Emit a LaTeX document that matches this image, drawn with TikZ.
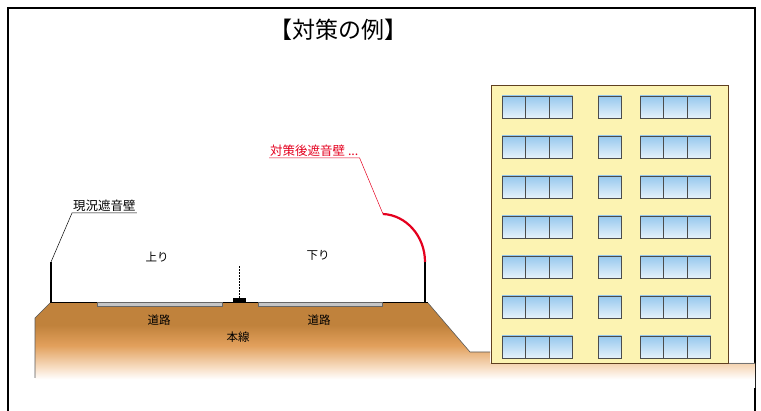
\documentclass[tikz,border=0pt]{standalone}
\usepackage{fontspec}
\setmainfont{Noto Sans CJK JP}
\usetikzlibrary{positioning}
\definecolor{soil}{RGB}{192,130,60}
\definecolor{soilmid}{RGB}{226,160,92}
\definecolor{soillow}{RGB}{248,222,196}
\definecolor{wallred}{RGB}{228,0,30}
\definecolor{facade}{RGB}{252,243,178}
\definecolor{glass}{RGB}{150,200,238}
\pgfdeclareverticalshading{soilfade}{100bp}{color(0bp)=(white); color(30bp)=(white);
    color(37bp)=(soillow); color(50bp)=(soilmid); color(62bp)=(soil); color(100bp)=(soil)}

\begin{document}
\begin{tikzpicture}[x=1pt, y=-1pt,
    tag/.style={font=\fontsize{11.5}{12}\selectfont, inner sep=1pt},
    callout/.style={font=\fontsize{12.5}{13}\selectfont, inner sep=1pt},
    wall/.style={line width=2.2pt},
    leader/.style={line width=0.5pt},
    slab/.style={fill=gray!45, draw=black!60, line width=0.5pt},
    pane/.style={draw=black!70, line width=0.8pt, top color=glass, bottom color=glass!25}
]
    \useasboundingbox (0,0) rectangle (761,411);
    \draw[line width=1.2pt] (8,411) -- (8,8) -- (755,8) -- (755,411);
    \node[font=\fontsize{23}{25}\selectfont] (title) at (338,30) {【対策の例】};

    % embankment
    \shade[shading=soilfade]
        (35,318) -- (50,303) -- (428,303) -- (470,352) -- (490,352) -- (490,363)
        -- (755,363) -- (755,388) -- (35,388) -- cycle;
    \draw[black!65, line width=0.6pt] (35,378) -- (35,318) -- (50,303);
    \draw[black!65, line width=0.6pt] (428,303) -- (470,352) -- (490,352);
    \draw[black!55, line width=0.6pt] (728,363) -- (755,363);

    % road deck and track
    \draw[line width=0.8pt] (50,302.5) -- (428,302.5);
    \fill[slab] (97,302.5) rectangle (222,306);
    \fill[slab] (258,302.5) rectangle (382,306);
    \fill (233,298.5) rectangle (246,302.5);
    \coordinate (rail) at (239.5,298);
    \coordinate (railtop) at (239.5,265);
    \draw[densely dotted, line width=0.5pt] (rail) -- (railtop);

    \node[tag] (up) at (157,257) {上り};
    \node[tag] (down) at (318,255) {下り};
    \node[tag] (roadL) at (159,320) {道路};
    \node[tag] (roadR) at (319,320) {道路};
    \node[tag] (main) at (238,337) {本線};

    % noise barriers
    \coordinate (oldtop) at (51,262);
    \coordinate (newbase) at (425,262);
    \coordinate (newtop) at (383,214);
    \draw[wall] (51,303) -- (oldtop);
    \draw[wall] (425,303) -- (newbase);
    \draw[wall, wallred] (newbase) .. controls (425,236) and (406,215) .. (newtop);

    \node[callout, anchor=south west] (oldlbl) at (72,213) {現況遮音壁};
    \draw[leader] (oldlbl.south east) -- (oldlbl.south west) -- (oldtop);
    \node[callout, text=wallred, anchor=south west] (newlbl) at (269,158) {対策後遮音壁 ...};
    \draw[leader, wallred] (newlbl.south west) -- (newlbl.south east) -- (newtop);

    % building
    \filldraw[fill=facade, draw=black!50!brown, line width=0.6pt] (491,85) rectangle (728,363);
    \foreach \r in {0,...,6} {
        \foreach \x in {502,525.5,549,598,640,663.7,687.3}
            \draw[pane] (\x,96+40*\r) rectangle ++(23.5,22);
    }
\end{tikzpicture}
\end{document}
